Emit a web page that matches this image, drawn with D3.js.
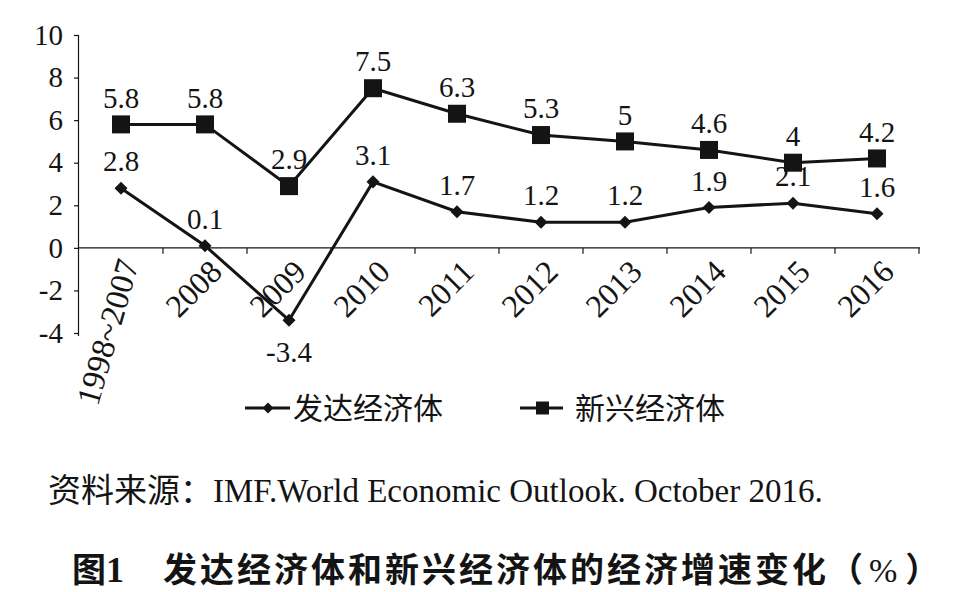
<!DOCTYPE html>
<html>
<head>
<meta charset="utf-8">
<script src="https://cdn.jsdelivr.net/npm/d3@7"></script>
<style>
  html, body { margin: 0; padding: 0; background: #fff; }
  svg { display: block; }
</style>
</head>
<body>
<svg id="chart" width="958" height="592"></svg>
<script>
// ---- data ----
const categories = ["1998~2007", "2008", "2009", "2010", "2011", "2012", "2013", "2014", "2015", "2016"];
const developed = [2.8, 0.1, -3.4, 3.1, 1.7, 1.2, 1.2, 1.9, 2.1, 1.6];
const emerging  = [5.8, 5.8, 2.9, 7.5, 6.3, 5.3, 5, 4.6, 4, 4.2];
const yTicks = [-4, -2, 0, 2, 4, 6, 8, 10];
const seriesNames = ["发达经济体", "新兴经济体"];
const sourceText = "资料来源：IMF.World Economic Outlook. October 2016.";
const titleLabel = ["图", "1"];
const titleText = ["发达经济体和新兴经济体的经济增速变化", "（", "%", "）"];

(function () {
const ink = "#141414";
const serif = "Liberation Serif, serif";
const cjk = "Noto Sans CJK SC, sans-serif";

const svg = d3.select("#chart");
const pLeft = 79, pRight = 919, pTop = 35, pBottom = 333;

const x = d3.scaleBand().domain(categories).range([pLeft, pRight]).paddingInner(0).paddingOuter(0);
const y = d3.scaleLinear().domain([-4, 10]).range([pBottom, pTop]);
const cx = d => x(d) + x.bandwidth() / 2;

// y axis
const yAxis = d3.axisLeft(y).tickValues(yTicks).tickSize(5).tickPadding(11).tickFormat(d => String(d));
const gy = svg.append("g").attr("transform", `translate(${pLeft},0)`).call(yAxis);
gy.attr("font-family", null).attr("font-size", null);
gy.select(".domain").attr("d", `M-0.5,${pTop}V${pBottom + 3}`).attr("stroke", ink).attr("stroke-width", 1.2);
gy.selectAll(".tick line").attr("stroke", ink).attr("stroke-width", 1.2);
gy.selectAll(".tick text").style("font-family", serif).style("font-size", "29px").attr("fill", ink);

// x axis at y=0
const y0 = y(0);
svg.append("line").attr("x1", pLeft).attr("x2", pRight + 1).attr("y1", y0).attr("y2", y0)
  .attr("stroke", ink).attr("stroke-width", 1.2);
svg.selectAll(".xtick").data(categories).enter().append("line")
  .attr("class", "xtick")
  .attr("x1", d => x(d) + x.bandwidth()).attr("x2", d => x(d) + x.bandwidth())
  .attr("y1", y0).attr("y2", y0 + 6)
  .attr("stroke", ink).attr("stroke-width", 1.2);

// x labels
svg.selectAll(".xlabel").data(categories).enter().append("text")
  .attr("class", "xlabel")
  .attr("transform", (d, i) => i === 0
      ? `translate(${cx(d) + 7},${y0 + 12}) rotate(-74)`
      : `translate(${cx(d) + 11},${y0 + 18}) rotate(-45)`)
  .attr("text-anchor", "end")
  .attr("dy", "0.35em")
  .style("font-family", serif).style("font-size", (d, i) => i === 0 ? "33px" : "32px").attr("fill", ink)
  .text(d => d);

// lines
const line = d3.line().x((d, i) => cx(categories[i])).y(d => y(d));
svg.append("path").datum(developed).attr("d", line).attr("fill", "none").attr("stroke", ink).attr("stroke-width", 3);
svg.append("path").datum(emerging).attr("d", line).attr("fill", "none").attr("stroke", ink).attr("stroke-width", 3);

// markers
const diamond = d3.symbol().type(d3.symbolSquare).size(85);
svg.selectAll(".dmark").data(developed).enter().append("path")
  .attr("d", diamond)
  .attr("transform", (d, i) => `translate(${cx(categories[i])},${y(d)}) rotate(45)`)
  .attr("fill", ink);
svg.selectAll(".smark").data(emerging).enter().append("rect")
  .attr("x", (d, i) => cx(categories[i]) - 9).attr("y", d => y(d) - 9)
  .attr("width", 18).attr("height", 18).attr("fill", ink);

// data labels
svg.selectAll(".dlab").data(developed).enter().append("text")
  .attr("x", (d, i) => cx(categories[i]))
  .attr("y", d => d < 0 ? y(d) + 32 : y(d) - 27)
  .attr("dy", "0.35em").attr("text-anchor", "middle")
  .style("font-family", serif).style("font-size", "29px").attr("fill", ink)
  .text(d => String(d));
svg.selectAll(".elab").data(emerging).enter().append("text")
  .attr("x", (d, i) => cx(categories[i]))
  .attr("y", d => y(d) - 27)
  .attr("dy", "0.35em").attr("text-anchor", "middle")
  .style("font-family", serif).style("font-size", "29px").attr("fill", ink)
  .text(d => String(d));

// legend
const legY = 408;
const leg = svg.append("g");
leg.append("line").attr("x1", 245).attr("x2", 290).attr("y1", legY).attr("y2", legY).attr("stroke", ink).attr("stroke-width", 3);
leg.append("path").attr("d", d3.symbol().type(d3.symbolSquare).size(60)).attr("transform", `translate(268,${legY}) rotate(45)`).attr("fill", ink);
leg.append("text").attr("x", 293).attr("y", legY).attr("dy", "0.36em")
  .style("font-family", cjk).style("font-size", "30px").attr("fill", ink).text(seriesNames[0]);
leg.append("line").attr("x1", 520).attr("x2", 563).attr("y1", legY).attr("y2", legY).attr("stroke", ink).attr("stroke-width", 3);
leg.append("rect").attr("x", 536).attr("y", legY - 6.5).attr("width", 13).attr("height", 13).attr("fill", ink);
leg.append("text").attr("x", 575).attr("y", legY).attr("dy", "0.36em")
  .style("font-family", cjk).style("font-size", "30px").attr("fill", ink).text(seriesNames[1]);

// source
svg.append("text").attr("x", 48).attr("y", 502)
  .style("font-family", `${serif}, ${cjk}`).style("font-size", "33px").attr("fill", ink)
  .text(sourceText);

// title
const t1 = svg.append("text").attr("x", 72).attr("y", 582).attr("fill", ink)
  .style("font-weight", "bold").style("font-size", "34px");
t1.append("tspan").style("font-family", cjk).text(titleLabel[0]);
t1.append("tspan").style("font-family", serif).style("font-size", "36px").text(titleLabel[1]);
const t2 = svg.append("text").attr("x", 163).attr("y", 582).attr("fill", ink)
  .style("font-weight", "bold").style("font-size", "34px");
t2.append("tspan").style("font-family", cjk).attr("letter-spacing", 3).text(titleText[0]);
t2.append("tspan").style("font-family", cjk).text(titleText[1]);
t2.append("tspan").attr("dx", 6).style("font-family", serif).style("font-weight", "normal").text(titleText[2]);
t2.append("tspan").attr("dx", 8).style("font-family", cjk).text(titleText[3]);
})();
</script>
</body>
</html>
